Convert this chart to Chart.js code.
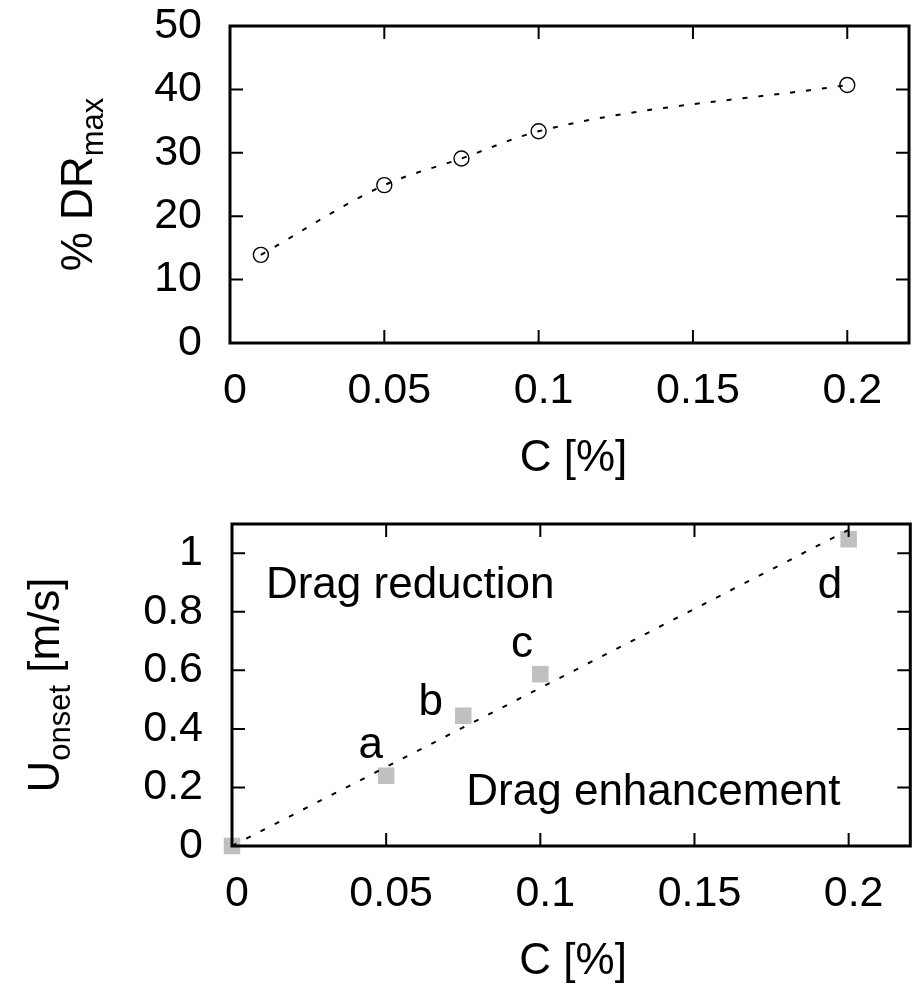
<!DOCTYPE html>
<html>
<head>
<meta charset="utf-8">
<script src="https://cdn.jsdelivr.net/npm/chart.js@4.4.1/dist/chart.umd.min.js"></script>
<style>
  body { margin: 0; background: #fff; }
  canvas { position: absolute; left: 0; }
  #top { top: 0; }
  #bottom { top: 492px; }
</style>
</head>
<body>
<canvas id="top" width="922" height="492"></canvas>
<canvas id="bottom" width="922" height="492"></canvas>
<script>
// top panel: max drag reduction vs concentration
const drC = [0.01, 0.05, 0.075, 0.1, 0.2];
const drMax = [13.9, 24.9, 29.1, 33.4, 40.7];

// bottom panel: onset velocity vs concentration
const onsetC = [0, 0.05, 0.075, 0.1, 0.2];
const onsetU = [0, 0.24, 0.445, 0.587, 1.048];
const fitC = [0, 0.2];
const fitU = [0, 1.08];

// text labels inside bottom panel
const noteText = ['Drag reduction', 'Drag enhancement', 'a', 'b', 'c', 'd'];
const noteC = [0.011, 0.076, 0.041, 0.0605, 0.0905, 0.19];
const noteU = [0.846, 0.14, 0.30, 0.447, 0.645, 0.846];

const FONT = '"Liberation Sans", Arial, Helvetica, sans-serif';
Chart.defaults.font.family = FONT;
Chart.defaults.color = '#000';

function fmt(v) {
  return String(+v.toFixed(2));
}

// box, inward ticks on all sides, axis titles and notes
const framePlugin = {
  id: 'frame',
  afterDatasetsDraw(chart, args, opts) {
    const ctx = chart.ctx;
    const a = chart.chartArea;
    const x = chart.scales.x, y = chart.scales.y;
    ctx.save();
    ctx.strokeStyle = '#000';
    ctx.lineWidth = 2;
    ctx.beginPath();
    x.ticks.forEach(t => {
      const px = x.getPixelForValue(t.value);
      ctx.moveTo(px, a.bottom); ctx.lineTo(px, a.bottom - 13);
      ctx.moveTo(px, a.top); ctx.lineTo(px, a.top + 13);
    });
    y.ticks.forEach(t => {
      const py = y.getPixelForValue(t.value);
      ctx.moveTo(a.left, py); ctx.lineTo(a.left + 13, py);
      ctx.moveTo(a.right, py); ctx.lineTo(a.right - 13, py);
    });
    ctx.stroke();
    ctx.lineWidth = 3;
    ctx.strokeRect(a.left, a.top, a.right - a.left, a.bottom - a.top);

    ctx.fillStyle = '#000';
    // x title
    ctx.font = '44px ' + FONT;
    ctx.textAlign = 'center';
    ctx.textBaseline = 'alphabetic';
    ctx.fillText('C [%]', (a.left + a.right) / 2 + opts.xShift, opts.xTitleY);

    // y title with subscript, rotated
    ctx.save();
    ctx.translate(opts.yTitleX, (a.top + a.bottom) / 2);
    ctx.rotate(-Math.PI / 2);
    ctx.textAlign = 'left';
    const big = '44px ' + FONT, small = '31px ' + FONT;
    ctx.font = big;
    const w1 = ctx.measureText(opts.yMain).width;
    const w3 = ctx.measureText(opts.yRest).width;
    ctx.font = small;
    const w2 = ctx.measureText(opts.ySub).width;
    let sx = -(w1 + w2 + w3) / 2;
    ctx.font = big;
    ctx.fillText(opts.yMain, sx, 0);
    ctx.font = small;
    ctx.fillText(opts.ySub, sx + w1, 11);
    ctx.font = big;
    ctx.fillText(opts.yRest, sx + w1 + w2, 0);
    ctx.restore();

    // notes
    if (opts.notes) {
      ctx.font = '44px ' + FONT;
      ctx.textAlign = 'left';
      for (let i = 0; i < noteText.length; i++) {
        ctx.fillText(noteText[i], x.getPixelForValue(noteC[i]), y.getPixelForValue(noteU[i]));
      }
    }
    ctx.restore();
  }
};

const tickFont = { size: 43 };

new Chart(document.getElementById('top').getContext('2d'), {
  type: 'scatter',
  data: {
    datasets: [{
      data: drC.map((c, i) => ({ x: c, y: drMax[i] })),
      showLine: true,
      borderColor: '#000',
      borderWidth: 2,
      borderDash: [5, 11],
      cubicInterpolationMode: 'monotone',
      pointStyle: 'circle',
      pointRadius: 7.5,
      pointBorderWidth: 1.4,
      pointBorderColor: '#000',
      pointBackgroundColor: 'rgba(0,0,0,0)'
    }]
  },
  plugins: [framePlugin],
  options: {
    responsive: false,
    animation: false,
    layout: { padding: { top: 26, right: 13, left: 0, bottom: 0 } },
    plugins: {
      legend: { display: false },
      tooltip: { enabled: false },
      frame: { xTitleY: 471, xShift: 4, yTitleX: 92, yMain: '% DR', ySub: 'max', yRest: '' }
    },
    scales: {
      x: {
        type: 'linear', min: 0, max: 0.22,
        grid: { display: false, drawTicks: false },
        border: { display: false },
        ticks: { stepSize: 0.05, includeBounds: false, font: tickFont, padding: 22, labelOffset: 5, maxRotation: 0, callback: fmt },
        afterFit(s) { s.height = 492 - 343; s.paddingLeft = 0; s.paddingRight = 0; }
      },
      y: {
        min: 0, max: 50,
        grid: { display: false, drawTicks: false },
        border: { display: false },
        ticks: { stepSize: 10, font: tickFont, padding: 28 },
        afterFit(s) { s.width = 230; s.paddingTop = 0; s.paddingBottom = 0; }
      }
    }
  }
});

new Chart(document.getElementById('bottom').getContext('2d'), {
  type: 'scatter',
  data: {
    datasets: [{
      data: fitC.map((c, i) => ({ x: c, y: fitU[i] })),
      showLine: true,
      borderColor: '#000',
      borderWidth: 2,
      borderDash: [5, 11],
      pointRadius: 0
    }, {
      data: onsetC.map((c, i) => ({ x: c, y: onsetU[i] })),
      pointStyle: 'rect',
      pointRadius: 11.7,
      pointBorderWidth: 0,
      pointBackgroundColor: '#c0c0c0',
      clip: false
    }]
  },
  plugins: [framePlugin],
  options: {
    responsive: false,
    animation: false,
    layout: { padding: { top: 32, right: 1, left: 0, bottom: 0 } },
    plugins: {
      legend: { display: false },
      tooltip: { enabled: false },
      frame: { xTitleY: 482, xShift: 2, yTitleX: 59, yMain: 'U', ySub: 'onset', yRest: ' [m/s]', notes: true }
    },
    scales: {
      x: {
        type: 'linear', min: 0, max: 0.22,
        grid: { display: false, drawTicks: false },
        border: { display: false },
        ticks: { stepSize: 0.05, includeBounds: false, font: tickFont, padding: 22, labelOffset: 5, maxRotation: 0, callback: fmt },
        afterFit(s) { s.height = 492 - 354; s.paddingLeft = 0; s.paddingRight = 0; }
      },
      y: {
        min: 0, max: 1.1,
        grid: { display: false, drawTicks: false },
        border: { display: false },
        ticks: { stepSize: 0.2, includeBounds: false, font: tickFont, padding: 29, callback: fmt },
        afterFit(s) { s.width = 232; s.paddingTop = 0; s.paddingBottom = 0; }
      }
    }
  }
});
</script>
</body>
</html>
